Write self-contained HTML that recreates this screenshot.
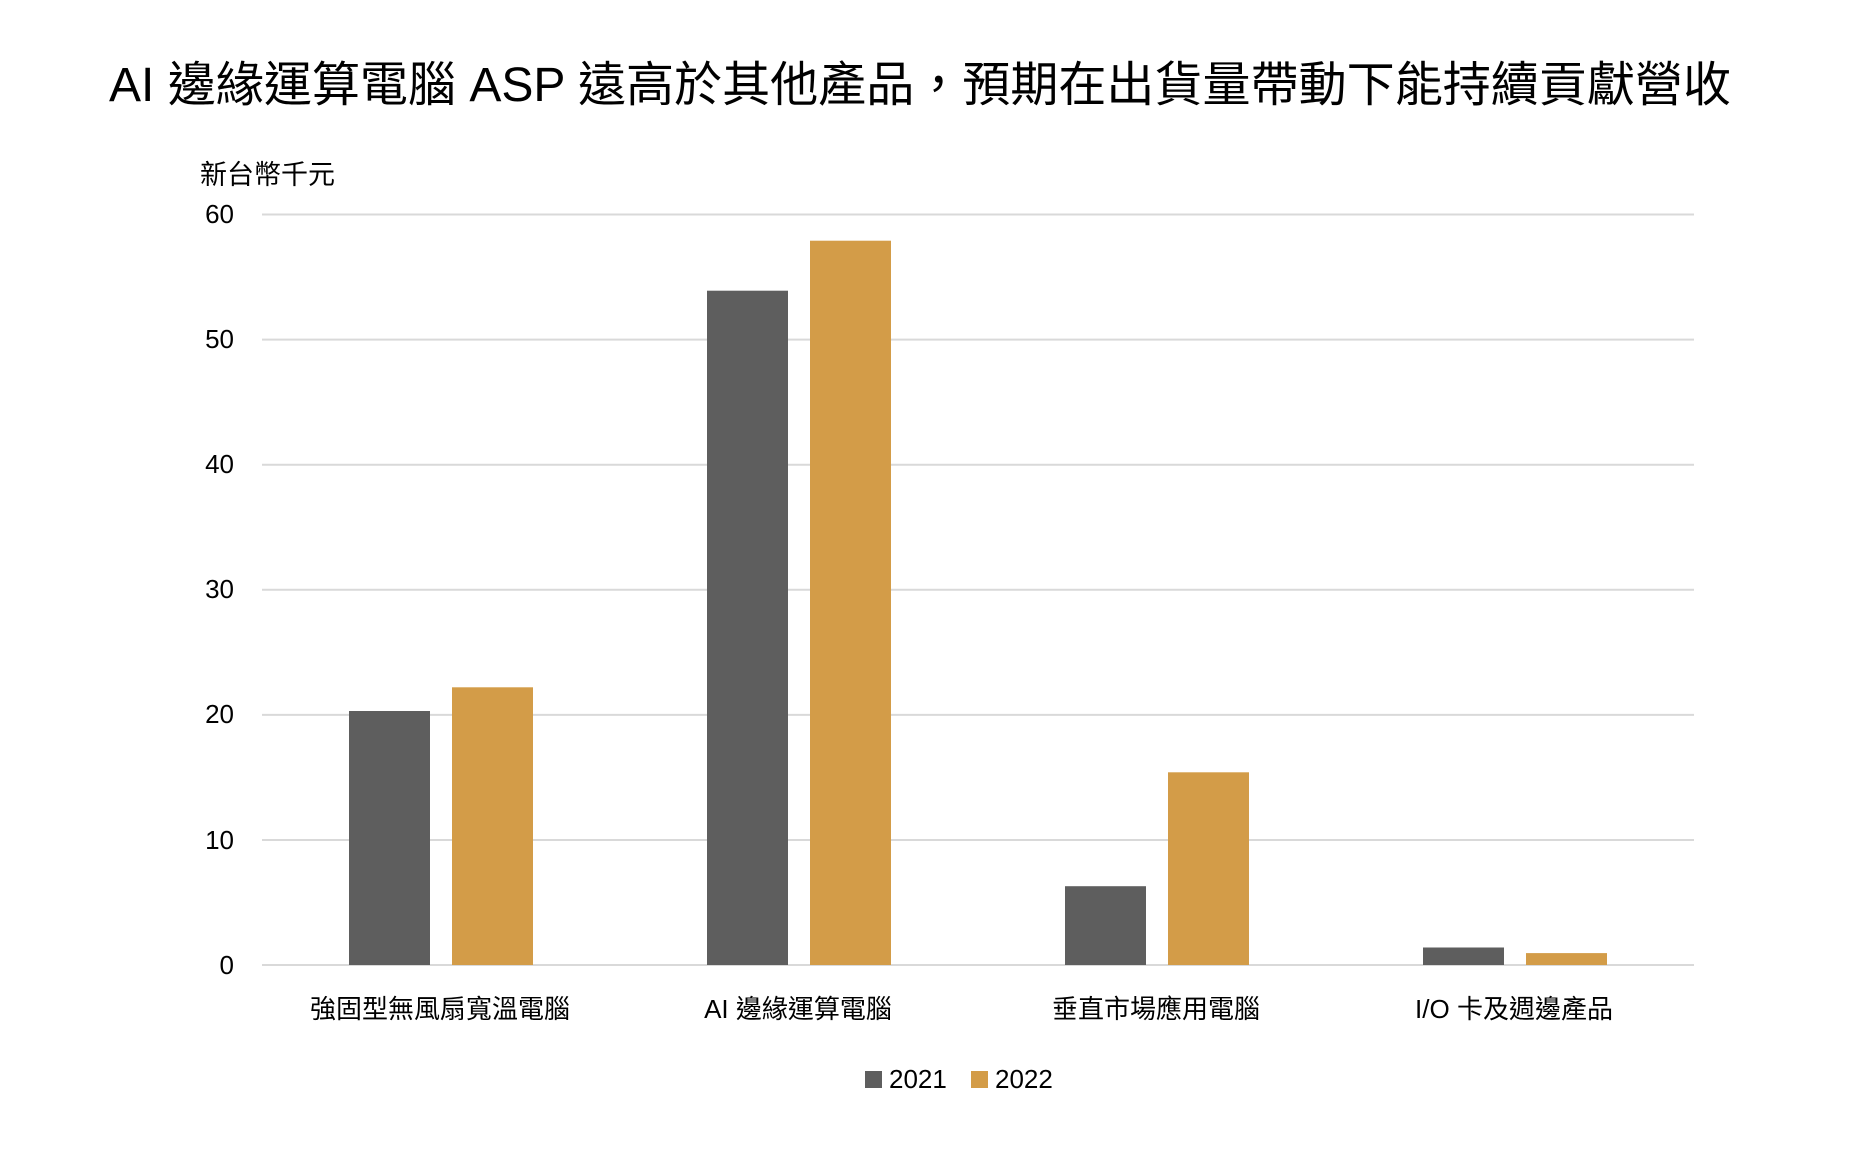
<!DOCTYPE html>
<html><head><meta charset="utf-8"><style>
html,body{margin:0;padding:0;background:#fff;}
svg{display:block;font-family:"Liberation Sans","Noto Sans CJK TC",sans-serif;}
</style></head><body>
<svg width="1868" height="1170" viewBox="0 0 1868 1170">
<text x="109" y="101" font-size="48" textLength="1622" lengthAdjust="spacingAndGlyphs" fill="#000">AI 邊緣運算電腦 ASP 遠高於其他產品，預期在出貨量帶動下能持續貢獻營收</text>
<text x="200" y="184" font-size="27" fill="#000">新台幣千元</text>
<g stroke="#d9d9d9" stroke-width="2">
<line x1="262" x2="1694" y1="214.5" y2="214.5"/>
<line x1="262" x2="1694" y1="339.6" y2="339.6"/>
<line x1="262" x2="1694" y1="464.7" y2="464.7"/>
<line x1="262" x2="1694" y1="589.8" y2="589.8"/>
<line x1="262" x2="1694" y1="714.9" y2="714.9"/>
<line x1="262" x2="1694" y1="840" y2="840"/>
<line x1="262" x2="1694" y1="965" y2="965"/>
</g>
<g font-size="26" text-anchor="end" fill="#000">
<text x="234" y="223">60</text>
<text x="234" y="348">50</text>
<text x="234" y="473">40</text>
<text x="234" y="598">30</text>
<text x="234" y="723">20</text>
<text x="234" y="849">10</text>
<text x="234" y="974">0</text>
</g>
<g fill="#5e5e5e">
<rect x="349" y="711" width="81" height="254"/>
<rect x="707" y="290.7" width="81" height="674.3"/>
<rect x="1065" y="886.2" width="81" height="78.8"/>
<rect x="1423" y="947.5" width="81" height="17.5"/>
</g>
<g fill="#d39c48">
<rect x="452" y="687.3" width="81" height="277.7"/>
<rect x="810" y="240.7" width="81" height="724.3"/>
<rect x="1168" y="772.3" width="81" height="192.7"/>
<rect x="1526" y="953.1" width="81" height="11.9"/>
</g>
<g font-size="26" text-anchor="middle" fill="#000">
<text x="440" y="1018">強固型無風扇寬溫電腦</text>
<text x="798" y="1018">AI 邊緣運算電腦</text>
<text x="1156" y="1018">垂直市場應用電腦</text>
<text x="1514" y="1018">I/O 卡及週邊產品</text>
</g>
<rect x="865" y="1071" width="17" height="17" fill="#5e5e5e"/>
<text x="889" y="1088" font-size="26" fill="#000">2021</text>
<rect x="971" y="1071" width="17" height="17" fill="#d39c48"/>
<text x="995" y="1088" font-size="26" fill="#000">2022</text>
</svg>
</body></html>
